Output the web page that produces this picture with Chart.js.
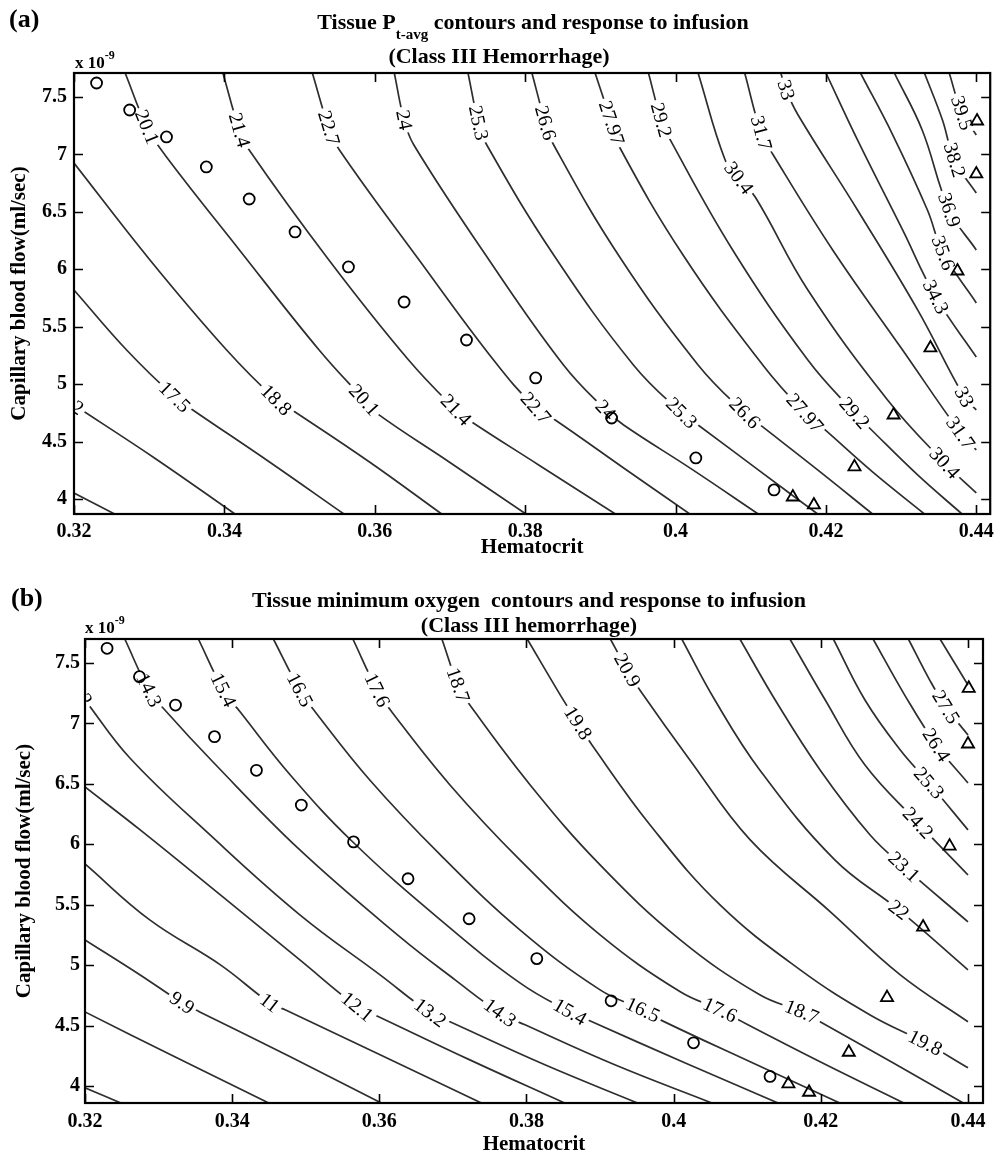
<!DOCTYPE html>
<html><head><meta charset="utf-8">
<script src="https://cdn.jsdelivr.net/npm/chart.js@4.4.0/dist/chart.umd.min.js"></script>
<style>
body{margin:0;background:#fff;}
#wrap{position:relative;width:999px;height:1157px;overflow:hidden;background:#fff;font-family:"Liberation Serif","Times New Roman",serif;color:#000}
canvas{position:absolute;left:0}
.t{position:absolute;font-weight:bold;white-space:pre;line-height:1}
.c{transform:translateX(-50%)}
</style></head><body>
<div id="wrap">
<canvas id="ca" width="999" height="560" style="top:0px"></canvas>
<canvas id="cb" width="999" height="597" style="top:560px"></canvas>
<div class="t" style="left:9px;top:6px;font-size:26px">(a)</div>
<div class="t c" style="left:533px;top:11px;font-size:22px">Tissue P<span style="font-size:15px;position:relative;top:10px">t-avg</span> contours and response to infusion</div>
<div class="t c" style="left:499px;top:45px;font-size:22px">(Class III Hemorrhage)</div>
<div class="t" style="left:75px;top:54px;font-size:17px">x 10<span style="font-size:12px;position:relative;top:-9px">-9</span></div>
<div class="t" style="left:11px;top:585px;font-size:26px">(b)</div>
<div class="t c" style="left:529px;top:589px;font-size:22px">Tissue minimum oxygen  contours and response to infusion</div>
<div class="t c" style="left:529px;top:614px;font-size:22px">(Class III hemorrhage)</div>
<div class="t" style="left:85px;top:619px;font-size:17px">x 10<span style="font-size:12px;position:relative;top:-9px">-9</span></div>
</div>
<script>
// ---------- axis ticks ----------
const X_TICKS = [0.32, 0.34, 0.36, 0.38, 0.40, 0.42, 0.44];
const X_TICK_LABELS = ['0.32', '0.34', '0.36', '0.38', '0.4', '0.42', '0.44'];
const Y_TICKS = [4, 4.5, 5, 5.5, 6, 6.5, 7, 7.5];
const Y_TICK_LABELS = ['4', '4.5', '5', '5.5', '6', '6.5', '7', '7.5'];

// ---------- infusion response markers (Hct, flow x1e-9 ml/s) ----------
const CIRCLE_HCT  = [0.3230, 0.3274, 0.3323, 0.3376, 0.3433, 0.3494, 0.3565, 0.3639, 0.3722, 0.3814, 0.3915, 0.4027, 0.4131];
const CIRCLE_FLOW = [7.622, 7.387, 7.152, 6.891, 6.612, 6.325, 6.020, 5.715, 5.384, 5.054, 4.705, 4.357, 4.079];
const TRIANGLE_HCT  = [0.4156, 0.4184, 0.4238, 0.4290, 0.4339, 0.4375, 0.4400, 0.4401];
const TRIANGLE_FLOW = [4.017, 3.948, 4.279, 4.731, 5.315, 5.985, 6.830, 7.291];

// ---------- panel (a): Pt-avg contours ----------
const A_LEVELS = [14.9, 16.2, 17.5, 18.8, 20.1, 21.4, 22.7, 24, 25.3, 26.6, 27.97, 29.2, 30.4, 31.7, 33, 34.3, 35.6, 36.9, 38.2, 39.5];
const A_HCT = [
  [0.3200, 0.3254],
  [0.3200, 0.3307, 0.3414],
  [0.3200, 0.3270, 0.3334, 0.3358, 0.3460, 0.3559],
  [0.3200, 0.3301, 0.3403, 0.3469, 0.3490, 0.3593, 0.3689],
  [0.3268, 0.3297, 0.3321, 0.3420, 0.3526, 0.3586, 0.3602, 0.3699, 0.3801],
  [0.3398, 0.3420, 0.3433, 0.3539, 0.3645, 0.3708, 0.3725, 0.3818, 0.3920],
  [0.3517, 0.3539, 0.3553, 0.3659, 0.3758, 0.3814, 0.3840, 0.3931, 0.4019],
  [0.3626, 0.3639, 0.3652, 0.3752, 0.3851, 0.3907, 0.3931, 0.4023, 0.4110],
  [0.3724, 0.3738, 0.3749, 0.3838, 0.3944, 0.4008, 0.4030, 0.4110, 0.4189],
  [0.3809, 0.3827, 0.3838, 0.3924, 0.4030, 0.4092, 0.4116, 0.4189, 0.4262],
  [0.3893, 0.3915, 0.3924, 0.4010, 0.4116, 0.4172, 0.4196, 0.4262, 0.4331],
  [0.3964, 0.3981, 0.3993, 0.4076, 0.4176, 0.4238, 0.4258, 0.4322, 0.4381],
  [0.4030, 0.4066, 0.4084, 0.4106, 0.4176, 0.4282, 0.4358, 0.4400],
  [0.4092, 0.4114, 0.4130, 0.4209, 0.4302, 0.4379, 0.4400],
  [0.4140, 0.4147, 0.4163, 0.4242, 0.4322, 0.4384, 0.4400],
  [0.4200, 0.4242, 0.4302, 0.4346, 0.4400],
  [0.4246, 0.4289, 0.4335, 0.4356, 0.4400],
  [0.4291, 0.4328, 0.4364, 0.4400],
  [0.4331, 0.4355, 0.4371, 0.4400],
  [0.4364, 0.4381, 0.4400]
];
const A_FLOW = [
  [4.052, 3.869],
  [4.818, 4.357, 3.869],
  [5.820, 5.297, 4.888, 4.775, 4.322, 3.869],
  [6.925, 6.081, 5.297, 4.862, 4.775, 4.322, 3.869],
  [7.709, 7.239, 6.995, 6.168, 5.297, 4.862, 4.749, 4.322, 3.869],
  [7.709, 7.213, 7.039, 6.081, 5.210, 4.775, 4.688, 4.296, 3.869],
  [7.709, 7.230, 7.039, 6.081, 5.210, 4.792, 4.688, 4.270, 3.869],
  [7.709, 7.300, 7.082, 6.081, 5.167, 4.775, 4.644, 4.253, 3.869],
  [7.709, 7.274, 7.082, 6.124, 5.167, 4.749, 4.644, 4.253, 3.869],
  [7.709, 7.274, 7.082, 6.124, 5.167, 4.749, 4.627, 4.253, 3.869],
  [7.709, 7.274, 7.082, 6.124, 5.167, 4.749, 4.618, 4.235, 3.869],
  [7.709, 7.300, 7.126, 6.168, 5.210, 4.749, 4.618, 4.209, 3.869],
  [7.709, 6.951, 6.795, 6.629, 5.820, 4.862, 4.313, 4.052],
  [7.709, 7.187, 6.995, 6.168, 5.297, 4.575, 4.427],
  [7.709, 7.561, 7.343, 6.516, 5.646, 4.888, 4.775],
  [7.709, 7.126, 6.342, 5.759, 5.236],
  [7.709, 7.169, 6.516, 6.142, 5.707],
  [7.709, 7.213, 6.516, 6.168],
  [7.709, 7.300, 6.951, 6.664],
  [7.709, 7.361, 7.169]
];
const A_LABEL_TEXT = ['16.2', '17.5', '18.8', '20.1', '20.1', '21.4', '21.4', '22.7', '22.7', '24', '24', '25.3', '25.3', '26.6', '26.6', '27.97', '27.97', '29.2', '29.2', '30.4', '30.4', '31.7', '31.7', '33', '33', '34.3', '35.6', '36.9', '38.2', '39.5'];
const A_LABEL_HCT  = [0.3191, 0.3334, 0.3469, 0.3297, 0.3586, 0.3420, 0.3708, 0.3539, 0.3814, 0.3639, 0.3907, 0.3738, 0.4008, 0.3827, 0.4092, 0.3915, 0.4172, 0.3981, 0.4238, 0.4084, 0.4358, 0.4114, 0.4379, 0.4147, 0.4384, 0.4346, 0.4356, 0.4364, 0.4371, 0.4381];
const A_LABEL_FLOW = [4.853, 4.888, 4.862, 7.239, 4.862, 7.213, 4.775, 7.230, 4.792, 7.300, 4.775, 7.274, 4.749, 7.274, 4.749, 7.274, 4.749, 7.300, 4.749, 6.795, 4.313, 7.187, 4.575, 7.561, 4.888, 5.759, 6.142, 6.516, 6.951, 7.361];

// ---------- panel (b): minimum oxygen contours ----------
const B_LEVELS = [7.7, 8.8, 9.9, 11, 12.1, 13.2, 14.3, 15.4, 16.5, 17.6, 18.7, 19.8, 20.9, 22, 23.1, 24.2, 25.3, 26.4, 27.5, 28.6];
const B_HCT = [
  [0.3200, 0.3248],
  [0.3200, 0.3322, 0.3449],
  [0.3200, 0.3275, 0.3332, 0.3356, 0.3479, 0.3602],
  [0.3200, 0.3288, 0.3384, 0.3451, 0.3472, 0.3601, 0.3738],
  [0.3200, 0.3275, 0.3384, 0.3492, 0.3570, 0.3594, 0.3723, 0.3851],
  [0.3200, 0.3261, 0.3370, 0.3492, 0.3601, 0.3669, 0.3696, 0.3825, 0.3950],
  [0.3254, 0.3287, 0.3311, 0.3374, 0.3492, 0.3628, 0.3703, 0.3764, 0.3798, 0.3920, 0.4051],
  [0.3354, 0.3388, 0.3411, 0.3479, 0.3564, 0.3683, 0.3791, 0.3859, 0.3886, 0.4015, 0.4141],
  [0.3456, 0.3492, 0.3513, 0.3587, 0.3683, 0.3791, 0.3900, 0.3958, 0.3982, 0.4104, 0.4225],
  [0.3564, 0.3597, 0.3617, 0.3696, 0.3791, 0.3900, 0.4009, 0.4063, 0.4088, 0.4199, 0.4312],
  [0.3685, 0.3707, 0.3723, 0.3805, 0.3900, 0.4009, 0.4117, 0.4174, 0.4199, 0.4298, 0.4393],
  [0.3801, 0.3846, 0.3870, 0.3889, 0.3968, 0.4063, 0.4172, 0.4267, 0.4342, 0.4400],
  [0.3914, 0.3937, 0.3954, 0.4022, 0.4104, 0.4213, 0.4308, 0.4400],
  [0.4011, 0.4056, 0.4117, 0.4219, 0.4306, 0.4400],
  [0.4090, 0.4138, 0.4199, 0.4267, 0.4313, 0.4400],
  [0.4158, 0.4206, 0.4260, 0.4332, 0.4400],
  [0.4217, 0.4260, 0.4308, 0.4347, 0.4400],
  [0.4271, 0.4314, 0.4357, 0.4400],
  [0.4319, 0.4348, 0.4370, 0.4400],
  [0.4362, 0.4400]
];
const B_FLOW = [
  [3.985, 3.861],
  [4.613, 4.241, 3.861],
  [5.209, 4.919, 4.688, 4.613, 4.241, 3.861],
  [5.837, 5.374, 5.002, 4.688, 4.630, 4.258, 3.861],
  [6.474, 6.119, 5.581, 5.043, 4.655, 4.588, 4.216, 3.861],
  [7.194, 6.714, 6.077, 5.416, 4.919, 4.605, 4.531, 4.175, 3.861],
  [7.699, 7.277, 7.095, 6.681, 5.953, 5.234, 4.878, 4.605, 4.506, 4.175, 3.861],
  [7.699, 7.277, 7.095, 6.574, 6.019, 5.374, 4.853, 4.613, 4.539, 4.192, 3.861],
  [7.699, 7.277, 7.095, 6.532, 5.912, 5.292, 4.795, 4.630, 4.547, 4.200, 3.861],
  [7.699, 7.277, 7.095, 6.491, 5.871, 5.250, 4.779, 4.630, 4.547, 4.200, 3.861],
  [7.699, 7.318, 7.153, 6.491, 5.829, 5.209, 4.754, 4.613, 4.531, 4.192, 3.861],
  [7.699, 7.235, 7.004, 6.822, 6.160, 5.498, 4.961, 4.588, 4.357, 4.150],
  [7.699, 7.442, 7.277, 6.698, 6.036, 5.441, 4.919, 4.531],
  [7.699, 7.194, 6.615, 5.871, 5.457, 4.961],
  [7.699, 7.194, 6.615, 6.077, 5.813, 5.358],
  [7.699, 7.194, 6.656, 6.177, 5.746],
  [7.699, 7.194, 6.780, 6.507, 6.119],
  [7.699, 7.235, 6.822, 6.507],
  [7.699, 7.359, 7.136, 6.904],
  [7.699, 7.318]
];
const B_LABEL_TEXT = ['13.2', '14.3', '15.4', '16.5', '17.6', '18.7', '19.8', '20.9', '27.5', '26.4', '25.3', '24.2', '23.1', '22', '9.9', '11', '12.1', '13.2', '14.3', '15.4', '16.5', '17.6', '18.7', '19.8'];
const B_LABEL_HCT  = [0.3190, 0.3287, 0.3388, 0.3492, 0.3597, 0.3707, 0.3870, 0.3937, 0.4370, 0.4357, 0.4347, 0.4332, 0.4313, 0.4306, 0.3332, 0.3451, 0.3570, 0.3669, 0.3764, 0.3859, 0.3958, 0.4063, 0.4174, 0.4342];
const B_LABEL_FLOW = [7.277, 7.277, 7.277, 7.277, 7.277, 7.318, 7.004, 7.442, 7.136, 6.822, 6.507, 6.177, 5.813, 5.457, 4.688, 4.688, 4.655, 4.605, 4.605, 4.613, 4.630, 4.630, 4.613, 4.357];

// ---------- rendering ----------
const SERIF = '"Liberation Serif", "Times New Roman", serif';

const frameTicks = {
  id: 'frameTicks',
  afterDraw(chart, args, opts) {
    const {ctx, chartArea: a, scales: {x, y}} = chart;
    const L = opts.len;
    ctx.save();
    ctx.strokeStyle = '#000';
    ctx.lineWidth = 1.6;
    ctx.beginPath();
    x.ticks.forEach(t => {
      const px = Math.round(x.getPixelForValue(t.value)) + 0.5;
      ctx.moveTo(px, a.bottom); ctx.lineTo(px, a.bottom - L);
      ctx.moveTo(px, a.top); ctx.lineTo(px, a.top + L);
    });
    y.ticks.forEach(t => {
      const py = Math.round(y.getPixelForValue(t.value)) + 0.5;
      ctx.moveTo(a.left, py); ctx.lineTo(a.left + L, py);
      ctx.moveTo(a.right, py); ctx.lineTo(a.right - L, py);
    });
    ctx.stroke();
    ctx.lineWidth = 2.2;
    ctx.strokeRect(a.left, a.top, a.right - a.left, a.bottom - a.top);
    ctx.restore();
  }
};

function lineAngle(chart, dsIndex, px, py) {
  const pts = chart.getDatasetMeta(dsIndex).data;
  let best = Infinity, ang = 0;
  for (let i = 0; i < pts.length - 1; i++) {
    const p = pts[i], q = pts[i + 1];
    const dx = q.x - p.x, dy = q.y - p.y;
    const l2 = dx * dx + dy * dy || 1;
    let t = ((px - p.x) * dx + (py - p.y) * dy) / l2;
    t = Math.max(0, Math.min(1, t));
    const cx = p.x + t * dx, cy = p.y + t * dy;
    const d = (px - cx) * (px - cx) + (py - cy) * (py - cy);
    if (d < best) { best = d; ang = Math.atan2(dy, dx); }
  }
  if (ang > Math.PI / 2) ang -= Math.PI;
  if (ang < -Math.PI / 2) ang += Math.PI;
  return ang;
}

const contourLabels = {
  id: 'contourLabels',
  afterDatasetDraw(chart, args, opts) {
    if (args.index !== opts.afterIndex) return;
    const {ctx, chartArea: a, scales: {x, y}} = chart;
    ctx.save();
    ctx.beginPath();
    ctx.rect(a.left, a.top, a.right - a.left, a.bottom - a.top);
    ctx.clip();
    ctx.font = opts.font;
    ctx.textAlign = 'center';
    ctx.textBaseline = 'middle';
    opts.text.forEach((txt, i) => {
      const lvl = opts.levels.indexOf(Number(txt));
      if (lvl < 0) return;
      const dsIndex = opts.afterIndex + lvl;
      const px = x.getPixelForValue(opts.hct[i]);
      const py = y.getPixelForValue(opts.flow[i]);
      const ang = lineAngle(chart, dsIndex, px, py);
      const w = ctx.measureText(txt).width;
      ctx.save();
      ctx.translate(px, py);
      ctx.rotate(ang);
      ctx.fillStyle = '#fff';
      ctx.fillRect(-w / 2 - 3, -8, w + 6, 16);
      ctx.fillStyle = '#000';
      ctx.fillText(txt, 0, 1);
      ctx.restore();
    });
    ctx.restore();
  }
};

function buildPanel(id, p) {
  const datasets = [
    {
      label: 'Infusion (triangles)',
      data: TRIANGLE_HCT.map((h, i) => ({x: h, y: TRIANGLE_FLOW[i]})),
      showLine: false, pointStyle: 'triangle', pointRadius: 7,
      pointBorderColor: '#000', pointBackgroundColor: 'rgba(0,0,0,0)', pointBorderWidth: 1.8,
      borderColor: '#000', backgroundColor: 'rgba(0,0,0,0)'
    },
    {
      label: 'Infusion (circles)',
      data: CIRCLE_HCT.map((h, i) => ({x: h, y: CIRCLE_FLOW[i]})),
      showLine: false, pointStyle: 'circle', pointRadius: 5.5,
      pointBorderColor: '#000', pointBackgroundColor: 'rgba(0,0,0,0)', pointBorderWidth: 1.8,
      borderColor: '#000', backgroundColor: 'rgba(0,0,0,0)'
    }
  ];
  p.levels.forEach((lv, k) => {
    datasets.push({
      label: String(lv),
      data: p.hct[k].map((h, i) => ({x: h, y: p.flow[k][i]})),
      showLine: true, pointRadius: 0, borderColor: '#2e2e2e', borderWidth: 1.7,
      tension: 0.4, fill: false
    });
  });
  const tickFont = {family: SERIF, size: 20, weight: 'bold'};
  const titleFont = {family: SERIF, size: 21, weight: 'bold'};
  return new Chart(document.getElementById(id), {
    type: 'scatter',
    data: {datasets},
    options: {
      responsive: false, animation: false, devicePixelRatio: 1, events: [],
      layout: {padding: {left: 0, right: p.padRight, top: p.padTop, bottom: 0}},
      plugins: {
        legend: {display: false}, tooltip: {enabled: false}, title: {display: false},
        contourLabels: {afterIndex: 2, levels: p.levels, text: p.labelText, hct: p.labelHct, flow: p.labelFlow,
                        font: '20px ' + SERIF},
        frameTicks: {len: 9}
      },
      scales: {
        x: {
          type: 'linear', min: p.xMin, max: p.xMax,
          afterBuildTicks: s => { s.ticks = X_TICKS.map(v => ({value: v})); },
          ticks: {callback: (v, i) => X_TICK_LABELS[i], font: tickFont, color: '#000', padding: p.xTickPad, maxRotation: 0, autoSkip: false},
          grid: {display: false, drawTicks: false}, border: {display: false},
          title: {display: true, text: 'Hematocrit', font: titleFont, color: '#000', padding: {top: 0, bottom: 0}},
          afterFit: s => { s.height = p.xAxisH; s.paddingLeft = 0; s.paddingRight = 0; }
        },
        y: {
          type: 'linear', min: p.yMin, max: p.yMax,
          afterBuildTicks: s => { s.ticks = Y_TICKS.map(v => ({value: v})); },
          ticks: {callback: (v, i) => Y_TICK_LABELS[i], font: tickFont, color: '#000', padding: p.yTickPad, autoSkip: false},
          grid: {display: false, drawTicks: false}, border: {display: false},
          title: {display: true, text: 'Capillary blood flow(ml/sec)', font: titleFont, color: '#000', padding: {top: p.yTitlePad, bottom: 0}},
          afterFit: s => { s.width = p.yAxisW; s.paddingTop = 0; s.paddingBottom = 0; }
        }
      }
    },
    plugins: [contourLabels, frameTicks]
  });
}

buildPanel('ca', {
  levels: A_LEVELS, hct: A_HCT, flow: A_FLOW,
  labelText: A_LABEL_TEXT, labelHct: A_LABEL_HCT, labelFlow: A_LABEL_FLOW,
  xMin: 0.32, xMax: 0.44185, yMin: 3.869, yMax: 7.709,
  padTop: 73, padRight: 6, yAxisW: 74, xAxisH: 46,
  xTickPad: 6, yTickPad: 7, yTitlePad: 7
});
buildPanel('cb', {
  levels: B_LEVELS, hct: B_HCT, flow: B_FLOW,
  labelText: B_LABEL_TEXT, labelHct: B_LABEL_HCT, labelFlow: B_LABEL_FLOW,
  xMin: 0.32, xMax: 0.44204, yMin: 3.859, yMax: 7.699,
  padTop: 79, padRight: 16, yAxisW: 85, xAxisH: 54,
  xTickPad: 7, yTickPad: 5, yTitlePad: 12
});
</script>
</body></html>
